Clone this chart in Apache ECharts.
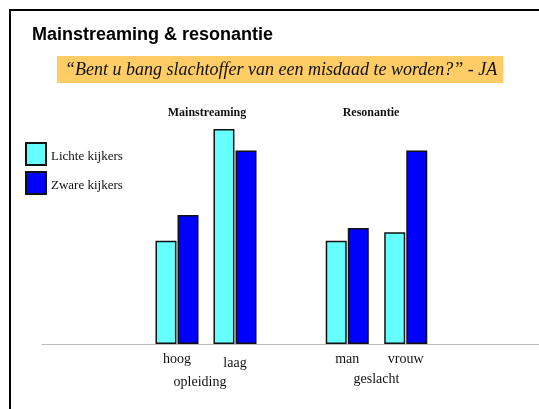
<!DOCTYPE html>
<html><head><meta charset="utf-8">
<script src="https://cdn.jsdelivr.net/npm/echarts@6/dist/echarts.min.js"></script>
<style>html,body{margin:0;padding:0;background:#fff}#c{width:539px;height:409px}</style>
</head><body><div id="c"></div>
<script>
const seriesNames = ['Lichte kijkers', 'Zware kijkers'];
const opleidingCats = ['hoog', 'laag'];
const geslachtCats = ['man', 'vrouw'];
const lichteOpleiding = [24, 50];
const zwareOpleiding = [30, 45];
const lichteGeslacht = [24, 26];
const zwareGeslacht = [27, 45];
const groupNames = ['opleiding', 'geslacht'];
const panelTitles = ['Mainstreaming', 'Resonantie'];

const serif = 'Liberation Serif, Times New Roman, serif';
const colors = ['#66FFFF', '#0000FF'];
const chart = echarts.init(document.getElementById('c'), null, {renderer: 'canvas'});

function cat(gi, data, name, lowered, namePad, nameGap) {
  return {
    type: 'category', gridIndex: gi, data: data,
    axisLine: {show: false}, axisTick: {show: false},
    axisLabel: {
      interval: 0, hideOverlap: false,
      color: '#111', fontFamily: serif, fontSize: 14, margin: 8,
      formatter: function (v) { return lowered.indexOf(v) >= 0 ? '{low|' + v + '}' : '{n|' + v + '}'; },
      rich: {
        low: {color: '#111', fontFamily: serif, fontSize: 14, padding: [4, 0, 0, 0]},
        n: {color: '#111', fontFamily: serif, fontSize: 14}
      }
    },
    name: name, nameLocation: 'middle', nameGap: nameGap,
    nameTextStyle: {color: '#111', fontFamily: serif, fontSize: 14, padding: namePad}
  };
}
function val(gi) {
  return {type: 'value', gridIndex: gi, min: 0, max: 60, show: false};
}
function bar(name, data, gi, ci) {
  return {
    type: 'bar', name: name, xAxisIndex: gi, yAxisIndex: gi, data: data,
    barWidth: 21, barGap: '5%',
    itemStyle: {color: colors[ci], borderColor: '#111', borderWidth: 1.5},
    emphasis: {disabled: true}
  };
}

chart.setOption({
  animation: false,
  title: [
    {text: 'Mainstreaming & resonantie', left: 32, top: 26, padding: 0,
     textStyle: {fontFamily: 'Liberation Sans, Arial, sans-serif', fontWeight: 'bold', fontSize: 18, color: '#000'}},
    {text: '\u201cBent u bang slachtoffer van een misdaad te worden?\u201d - JA', left: 57, top: 56,
     backgroundColor: '#FFCC66', padding: [5, 6, 4, 8],
     textStyle: {fontFamily: serif, fontStyle: 'italic', fontWeight: 'normal', fontSize: 18, color: '#111'}},
    {text: panelTitles[0], left: 207, top: 107, textAlign: 'center', padding: 0,
     textStyle: {fontFamily: serif, fontWeight: 'bold', fontSize: 12, color: '#111'}},
    {text: panelTitles[1], left: 371, top: 107, textAlign: 'center', padding: 0,
     textStyle: {fontFamily: serif, fontWeight: 'bold', fontSize: 12, color: '#111'}}
  ],
  legend: {
    data: seriesNames, orient: 'vertical', left: 25, top: 142, padding: 0,
    icon: 'rect', itemWidth: 20, itemHeight: 22, itemGap: 5,
    formatter: function (n) { return '{t|' + n + '}'; },
    textStyle: {fontFamily: serif, fontSize: 13, color: '#111',
      rich: {t: {fontFamily: serif, fontSize: 13, color: '#111', padding: [6, 0, 0, 0]}}},
    selectedMode: false
  },
  grid: [
    {left: 148, width: 116, bottom: 65, height: 258},
    {left: 318, width: 117, bottom: 65, height: 258},
    {left: 42, right: 0, bottom: 65, height: 10}
  ],
  xAxis: [
    cat(0, opleidingCats, groupNames[0], ['laag'], [0, 12, 0, 0], 25),
    cat(1, geslachtCats, groupNames[1], [], 0, 28),
    {type: 'category', gridIndex: 2, data: [''], axisLine: {show: true, lineStyle: {color: '#bbbbbb', width: 1}},
     axisTick: {show: false}, axisLabel: {show: false}}
  ],
  yAxis: [val(0), val(1), {type: 'value', gridIndex: 2, show: false}],
  series: [
    bar(seriesNames[0], lichteOpleiding, 0, 0),
    bar(seriesNames[1], zwareOpleiding, 0, 1),
    bar(seriesNames[0], lichteGeslacht, 1, 0),
    bar(seriesNames[1], zwareGeslacht, 1, 1)
  ],
  graphic: [
    {type: 'rect', shape: {x: 10, y: 10, width: 700, height: 600}, silent: true,
     style: {fill: 'none', stroke: '#000', lineWidth: 2}}
  ]
});
</script></body></html>
